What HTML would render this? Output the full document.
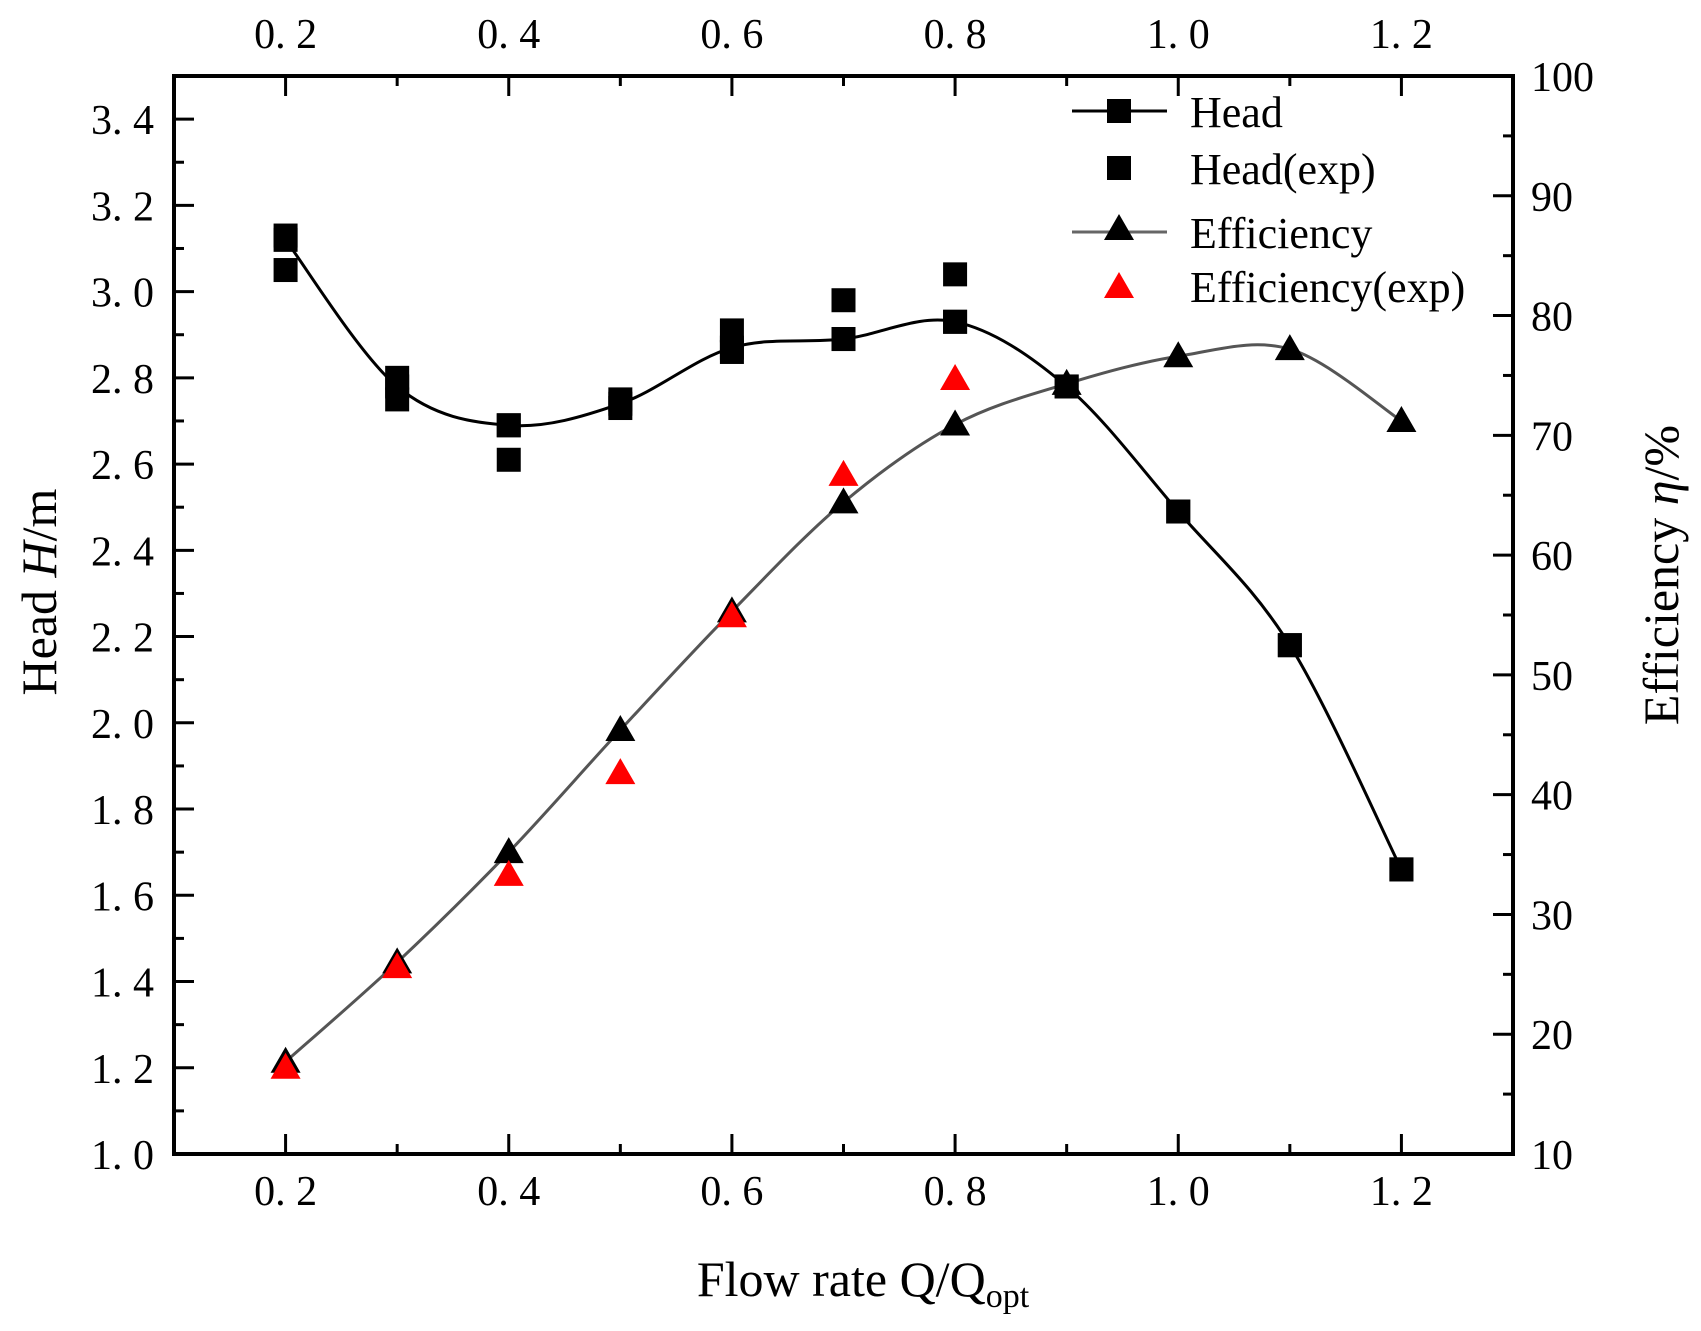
<!DOCTYPE html>
<html><head><meta charset="utf-8"><style>
html,body{margin:0;padding:0;background:#fff;}
svg{display:block;font-family:"Liberation Serif","Noto Serif CJK SC",serif;}
</style></head><body>
<svg id="chart" width="1701" height="1331" viewBox="0 0 1701 1331" xmlns="http://www.w3.org/2000/svg">
<g id="grid"></g>
<g id="marks"></g>
<text x="863" y="1296" font-size="50" text-anchor="middle">Flow rate Q/Q<tspan font-size="34" dy="11">opt</tspan></text>
<text transform="translate(56,592) rotate(-90)" font-size="50" text-anchor="middle">Head <tspan font-style="italic">H</tspan>/m</text>
<text transform="translate(1678,575) rotate(-90)" font-size="50" text-anchor="middle">Efficiency <tspan font-style="italic">η</tspan>/%</text>
<g>
  <g>
    <line x1="1072" y1="111" x2="1167" y2="111" stroke="#000" stroke-width="3"/>
    <rect x="1107" y="99" width="24" height="24" fill="#000"/>
    <text x="1190" y="127" font-size="44">Head</text>
  </g>
  <g>
    <rect x="1107" y="156" width="24" height="24" fill="#000"/>
    <text x="1190" y="184" font-size="44">Head(exp)</text>
  </g>
  <g>
    <line x1="1072" y1="232" x2="1167" y2="232" stroke="#666" stroke-width="3"/>
    <polygon points="1119,214 1104,240 1134,240" fill="#000"/>
    <text x="1190" y="248" font-size="44">Efficiency</text>
  </g>
  <g>
    <polygon points="1119,272 1104,298 1134,298" fill="#f00"/>
    <text x="1190" y="302" font-size="44">Efficiency(exp)</text>
  </g>
</g>
</svg>
<script>
const flowRates = [0.2,0.3,0.4,0.5,0.6,0.7,0.8,0.9,1.0,1.1,1.2];
const headSim = [3.12,2.78,2.69,2.74,2.87,2.89,2.93,2.78,2.49,2.18,1.66];
const headExpX = [0.2,0.2,0.3,0.3,0.4,0.4,0.5,0.5,0.6,0.6,0.7,0.7,0.8,0.8,0.9,1.0,1.1,1.2];
const headExp = [3.13,3.05,2.80,2.75,2.69,2.61,2.75,2.73,2.91,2.86,2.98,2.89,3.04,2.93,2.78,2.49,2.18,1.66];
const effSim = [17.7,26.0,35.2,45.4,55.3,64.4,70.9,74.3,76.6,77.2,71.2];
const effExpX = [0.2,0.3,0.4,0.5,0.6,0.7,0.8];
const effExp = [17.2,25.6,33.3,41.8,54.9,66.7,74.7];
const xTicks = [0.2,0.4,0.6,0.8,1.0,1.2];
const xTickLabels = ["0. 2","0. 4","0. 6","0. 8","1. 0","1. 2"];
const yTicks = [1.0,1.2,1.4,1.6,1.8,2.0,2.2,2.4,2.6,2.8,3.0,3.2,3.4];
const yTickLabels = ["1. 0","1. 2","1. 4","1. 6","1. 8","2. 0","2. 2","2. 4","2. 6","2. 8","3. 0","3. 2","3. 4"];
const y2Ticks = [10,20,30,40,50,60,70,80,90,100];

const L=174,R=1513,T=76,B=1154;
const X=v=>L+(v-0.1)/1.2*(R-L);
const Y=v=>B-(v-1.0)/2.5*(B-T);
const Y2=v=>B-(v-10)/90*(B-T);
const NS="http://www.w3.org/2000/svg";
function mk(tag,attrs,parent){const e=document.createElementNS(NS,tag);for(const k in attrs)e.setAttribute(k,attrs[k]);parent.appendChild(e);return e;}
const grid=document.getElementById('grid'), marks=document.getElementById('marks');

const frame=mk('rect',{x:L,y:T,width:R-L,height:B-T,fill:'none',stroke:'#000','stroke-width':4},grid);


for(let i=2;i<=12;i++){
  const v=i/10, major=i%2===0;
  const len=major?20:10, x=X(v);
  mk('line',{x1:x,y1:B,x2:x,y2:B-len,stroke:'#000','stroke-width':3},grid);
  mk('line',{x1:x,y1:T,x2:x,y2:T+len,stroke:'#000','stroke-width':3},grid);
}
xTicks.forEach((v,i)=>{
  const t=mk('text',{x:X(v),y:1205,'font-size':42,'text-anchor':'middle'},grid);
  t.textContent=xTickLabels[i];
  
  
  const t2=mk('text',{x:X(v),y:48,'font-size':42,'text-anchor':'middle'},grid);
  t2.textContent=xTickLabels[i];
  
  
});
for(let i=0;i<=25;i++){
  const v=1.0+i*0.1, y=Y(v), major=i%2===0;
  mk('line',{x1:L,y1:y,x2:L+(major?20:10),y2:y,stroke:'#000','stroke-width':3},grid);
}
yTicks.forEach((v,i)=>{
  const t=mk('text',{x:154,y:Y(v)+15,'font-size':42,'text-anchor':'end'},grid);
  t.textContent=yTickLabels[i];
  
  
});
for(let i=0;i<=18;i++){
  const v=10+i*5, y=Y2(v), major=i%2===0;
  mk('line',{x1:R,y1:y,x2:R-(major?20:10),y2:y,stroke:'#000','stroke-width':3},grid);
}
y2Ticks.forEach(v=>{
  const t=mk('text',{x:1531,y:Y2(v)+15,'font-size':42,'text-anchor':'start'},grid);
  t.textContent=String(v);
  
  
});

function smooth(pts){
  let d=`M${pts[0][0]},${pts[0][1]}`;
  for(let i=0;i<pts.length-1;i++){
    const p0=pts[i-1]||pts[i],p1=pts[i],p2=pts[i+1],p3=pts[i+2]||p2;
    const c1=[p1[0]+(p2[0]-p0[0])/6,p1[1]+(p2[1]-p0[1])/6];
    const c2=[p2[0]-(p3[0]-p1[0])/6,p2[1]-(p3[1]-p1[1])/6];
    d+=` C${c1[0]},${c1[1]} ${c2[0]},${c2[1]} ${p2[0]},${p2[1]}`;
  }
  return d;
}
const effLine=mk('path',{d:smooth(flowRates.map((q,i)=>[X(q),Y2(effSim[i])])),fill:'none',stroke:'#555','stroke-width':3},marks);


const headLine=mk('path',{d:smooth(flowRates.map((q,i)=>[X(q),Y(headSim[i])])),fill:'none',stroke:'#000','stroke-width':3},marks);



function sq(x,y,name){const r=mk('rect',{x:x-12,y:y-12,width:24,height:24,fill:'#000'},marks);
  
  }
function tri(x,y,c,name){const p=mk('polygon',{points:`${x},${y-15} ${x-15},${y+11} ${x+15},${y+11}`,fill:c},marks);
  
  }
headExpX.forEach((q,i)=>sq(X(q),Y(headExp[i]),'head-exp-point'));
flowRates.forEach((q,i)=>sq(X(q),Y(headSim[i]),'head-point'));
flowRates.forEach((q,i)=>tri(X(q),Y2(effSim[i]),'#000','efficiency-point'));
effExpX.forEach((q,i)=>tri(X(q),Y2(effExp[i]),'#f00','efficiency-exp-point'));
</script>
</body></html>
